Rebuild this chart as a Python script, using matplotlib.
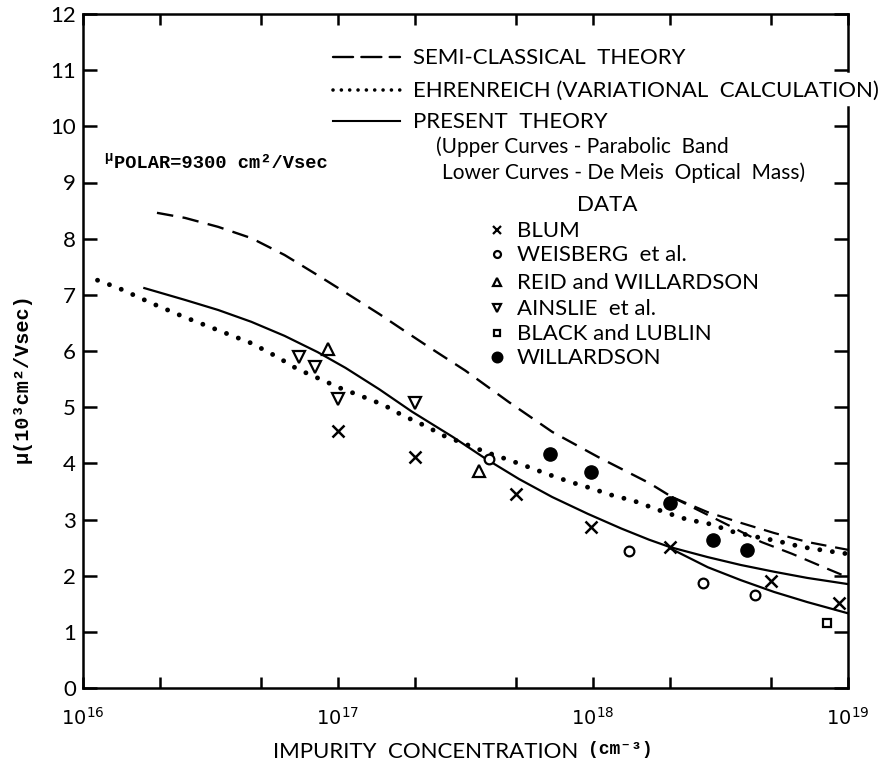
import matplotlib.pyplot as plt
from matplotlib.lines import Line2D

W, H = 885, 765

# impurity concentration (cm^-3) and mobility (10^3 cm^2/Vsec)
semi_n = [1.95e16, 2.51e16, 3.39e16, 4.57e16, 6.17e16, 8.32e16, 1.07e17, 1.45e17,
          1.82e17, 2.29e17, 3.16e17, 4.68e17, 6.92e17, 1.05e18, 1.66e18, 2.04e18]
semi_mu = [8.46, 8.37, 8.21, 8.01, 7.71, 7.35, 7.04, 6.66,
           6.36, 6.06, 5.65, 5.09, 4.56, 4.11, 3.65, 3.40]
semi_up_n = [2.04e18, 2.82e18, 3.80e18, 5.13e18, 6.92e18, 1.0e19]
semi_up_mu = [3.40, 3.13, 2.94, 2.76, 2.60, 2.46]
semi_lo_n = [2.04e18, 2.63e18, 3.39e18, 4.57e18, 6.03e18, 8.13e18, 1.0e19]
semi_lo_mu = [3.40, 3.15, 2.90, 2.60, 2.39, 2.14, 1.97]

ehr_n = [1.14e16, 1.38e16, 1.86e16, 2.51e16, 3.39e16, 4.57e16, 5.75e16, 6.92e16,
         8.32e16, 1.02e17, 1.23e17, 1.51e17, 1.78e17, 2.24e17, 2.57e17, 3.09e17,
         3.80e17, 4.68e17, 5.62e17, 6.61e17, 8.13e17, 9.77e17, 1.17e18, 1.45e18,
         1.91e18, 2.34e18, 2.88e18, 3.55e18, 4.37e18, 5.25e18, 6.61e18, 8.32e18, 9.9e18]
ehr_mu = [7.26, 7.12, 6.85, 6.60, 6.37, 6.14, 5.90, 5.68,
          5.52, 5.34, 5.20, 5.04, 4.86, 4.65, 4.50, 4.36,
          4.20, 4.06, 3.93, 3.81, 3.67, 3.56, 3.44, 3.33,
          3.13, 3.00, 2.92, 2.78, 2.69, 2.62, 2.51, 2.44, 2.39]

pres_n = [1.74e16, 2.51e16, 3.39e16, 4.57e16, 6.17e16, 8.32e16, 1.07e17, 1.45e17,
          1.95e17, 2.82e17, 3.80e17, 5.13e17, 6.92e17, 9.55e17, 1.29e18, 1.66e18, 2.0e18]
pres_mu = [7.12, 6.91, 6.73, 6.52, 6.27, 5.98, 5.70, 5.32,
           4.92, 4.47, 4.08, 3.72, 3.40, 3.10, 2.84, 2.64, 2.51]
pres_up_n = [2.0e18, 2.82e18, 3.80e18, 5.13e18, 6.92e18, 1.0e19]
pres_up_mu = [2.51, 2.33, 2.19, 2.07, 1.96, 1.85]
pres_lo_n = [2.0e18, 2.82e18, 3.80e18, 5.13e18, 6.92e18, 1.0e19]
pres_lo_mu = [2.49, 2.15, 1.92, 1.71, 1.53, 1.33]

blum_n = [1.0e17, 2.0e17, 5.0e17, 9.8e17, 2.0e18, 5.0e18, 9.2e18]
blum_mu = [4.58, 4.11, 3.45, 2.87, 2.51, 1.91, 1.51]
weis_n = [3.9e17, 1.38e18, 2.7e18, 4.3e18]
weis_mu = [4.08, 2.44, 1.87, 1.66]
reid_n = [9.1e16, 3.57e17]
reid_mu = [6.04, 3.86]
ains_n = [7.0e16, 8.1e16, 1.0e17, 2.0e17]
ains_mu = [5.89, 5.71, 5.15, 5.07]
black_n = [8.3e18]
black_mu = [1.16]
will_n = [6.8e17, 9.8e17, 2.0e18, 2.95e18, 4.0e18]
will_mu = [4.17, 3.85, 3.29, 2.63, 2.46]

xticks = [1e16, 1e17, 1e18, 1e19]
xticklabels = ['$10^{16}$', '$10^{17}$', '$10^{18}$', '$10^{19}$']
yticks = list(range(13))

plt.rcParams['font.family'] = ['Lato', 'DejaVu Sans']
plt.rcParams['mathtext.fontset'] = 'dejavusans'
MONO = ['Liberation Mono', 'DejaVu Sans Mono']


def fpos(x, y):
    # pixel position -> figure fraction
    return x / W, 1 - y / H


fig = plt.figure(figsize=(W / 100, H / 100), dpi=100)
ax = fig.add_axes([83 / W, 1 - 688 / H, (848 - 83) / W, (688 - 14) / H])

dash = (0, (7, 4))
dots = (0, (0.01, 2.6))
ax.plot(semi_n, semi_mu, color='k', lw=1.7, ls=dash)
ax.plot(semi_up_n, semi_up_mu, color='k', lw=1.6, ls=dash)
ax.plot(semi_lo_n, semi_lo_mu, color='k', lw=1.6, ls=dash)
ax.plot(ehr_n, ehr_mu, color='k', lw=3.5, ls=dots, dash_capstyle='round')
ax.plot(pres_n, pres_mu, color='k', lw=1.6)
ax.plot(pres_up_n, pres_up_mu, color='k', lw=1.6)
ax.plot(pres_lo_n, pres_lo_mu, color='k', lw=1.6)

mk = dict(color='k', ls='none')
ax.plot(blum_n, blum_mu, marker='x', ms=8, mew=1.8, **mk)
ax.plot(weis_n, weis_mu, marker='o', ms=7, mew=1.6, mfc='white', **mk)
ax.plot(reid_n, reid_mu, marker='^', ms=8, mew=1.6, mfc='white', **mk)
ax.plot(ains_n, ains_mu, marker='v', ms=8, mew=1.6, mfc='white', **mk)
ax.plot(black_n, black_mu, marker='s', ms=6, mew=1.6, mfc='white', **mk)
ax.plot(will_n, will_mu, marker='o', ms=9.5, **mk)

ax.set_xscale('log')
ax.set_xlim(1e16, 1e19)
ax.set_ylim(0, 12)
ax.set_xticks(xticks)
ax.set_xticklabels(xticklabels, fontsize=14)
ax.set_xticks([m * 10 ** e for e in (16, 17, 18) for m in (2, 5)], minor=True)
ax.set_yticks(yticks)
ax.set_yticklabels([str(v) for v in yticks], fontsize=16)
ax.tick_params(which='both', direction='in', length=8, width=1.8,
               top=True, right=True)
ax.tick_params(axis='y', length=10)
ax.tick_params(axis='x', pad=13)
ax.tick_params(axis='y', pad=5)

for s in ax.spines.values():
    s.set_linewidth(1.8)
# right frame is broken where the legend text runs past it
ax.spines['right'].set_visible(False)
ax.plot([1, 1], [0, 10.35], color='k', lw=1.8, transform=ax.get_yaxis_transform(),
        clip_on=False, solid_capstyle='projecting')
ax.plot([1, 1], [10.98, 12], color='k', lw=1.8, transform=ax.get_yaxis_transform(),
        clip_on=False, solid_capstyle='projecting')

# axis titles
fig.text(*fpos(22, 378), 'μ(10³cm²/Vsec)', rotation=90, ha='center', va='center',
         family=MONO, fontweight='bold', fontsize=14.5)
fig.text(*fpos(578, 752), 'IMPURITY  CONCENTRATION', ha='right', va='center',
         fontsize=16)
fig.text(*fpos(588, 750), '(cm⁻³)', ha='left', va='center',
         family=MONO, fontweight='bold', fontsize=13)

fig.text(*fpos(104, 157), 'μ', ha='left', va='center', family=MONO,
         fontweight='bold', fontsize=10)
fig.text(*fpos(114, 164), 'POLAR=9300 cm²/Vsec', ha='left', va='center',
         family=MONO, fontweight='bold', fontsize=13.5)

# line key
key = [((0, (8.5, 3.5)), 1.7, 'SEMI-CLASSICAL  THEORY', 57),
       ((0, (0.01, 2.3)), 2.6, 'EHRENREICH (VARIATIONAL  CALCULATION)', 90),
       ('-', 1.5, 'PRESENT  THEORY', 121)]
for ls, lw, label, y in key:
    (x0, y0), (x1, _) = fpos(333, y), fpos(400, y)
    fig.add_artist(Line2D([x0, x1], [y0, y0], color='k', lw=lw, ls=ls,
                          dash_capstyle='round'))
    fig.text(*fpos(413, y + 1), label, ha='left', va='center', fontsize=16,
             bbox=dict(fc='white', ec='none', pad=1))
fig.text(*fpos(436, 147), '(Upper Curves - Parabolic  Band', ha='left', va='center',
         fontsize=15)
fig.text(*fpos(442, 173), 'Lower Curves - De Meis  Optical  Mass)', ha='left',
         va='center', fontsize=15)

# data key
fig.text(*fpos(607, 205), 'DATA', ha='center', va='center', fontsize=16)
data_key = [('x', 6, 'white', 'BLUM', 230),
            ('o', 5, 'white', 'WEISBERG  et al.', 254),
            ('^', 6, 'white', 'REID and WILLARDSON', 282),
            ('v', 6, 'white', 'AINSLIE  et al.', 308),
            ('s', 5, 'white', 'BLACK and LUBLIN', 333),
            ('o', 7, 'k', 'WILLARDSON', 357)]
for m, ms, fc, label, y in data_key:
    fig.add_artist(Line2D([fpos(497, y)[0]], [fpos(497, y)[1]], marker=m, ms=ms,
                          mew=1.6, mfc=fc, color='k', ls='none'))
    fig.text(*fpos(517, y + 1), label, ha='left', va='center', fontsize=16)

fig.savefig('out.png', dpi=100)
